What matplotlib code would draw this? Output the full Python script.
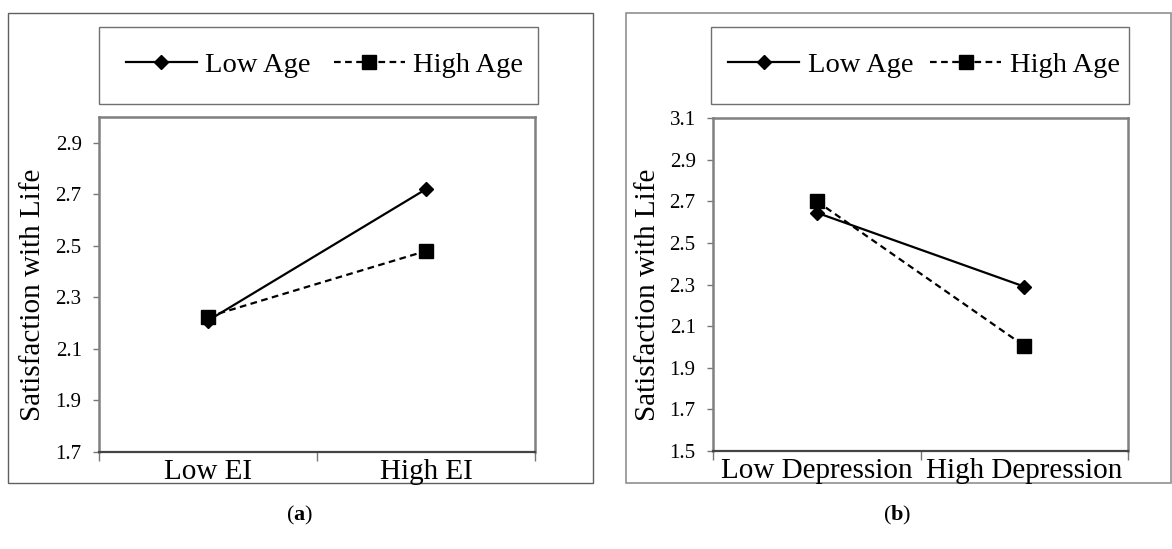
import matplotlib
matplotlib.use("Agg")
import matplotlib.pyplot as plt
from matplotlib.patches import Rectangle
from matplotlib.lines import Line2D

plt.rcParams['font.family'] = ['Liberation Serif', 'DejaVu Serif']
plt.rcParams['mathtext.fontset'] = 'custom'
plt.rcParams['mathtext.rm'] = 'Liberation Serif'
plt.rcParams['mathtext.bf'] = 'Liberation Serif:bold'

# ---- data ----
series_names = ["Low Age", "High Age"]
cats_a = ["Low EI", "High EI"]
low_age_a = [2.21, 2.72]
high_age_a = [2.225, 2.48]
yticks_a = [1.7, 1.9, 2.1, 2.3, 2.5, 2.7, 2.9]

cats_b = ["Low Depression", "High Depression"]
low_age_b = [2.645, 2.29]
high_age_b = [2.70, 2.005]
yticks_b = [1.5, 1.7, 1.9, 2.1, 2.3, 2.5, 2.7, 2.9, 3.1]

ylabel = "Satisfaction with Life"

W, H = 1172, 549
fig = plt.figure(figsize=(W / 100, H / 100), dpi=100)


def fbox(x0, y0, x1, y1):
    return [x0 / W, 1 - y1 / H, (x1 - x0) / W, (y1 - y0) / H]


def rect(x0, y0, x1, y1, color, lw):
    b = fbox(x0, y0, x1, y1)
    fig.add_artist(Rectangle((b[0], b[1]), b[2], b[3], transform=fig.transFigure,
                             fill=False, ec=color, lw=lw, zorder=0))


def panel(ax_px, cats, low, high, yticks, ylim, leg_px, ylab_x, leg_shift, colsp):
    ax = fig.add_axes(fbox(*ax_px))
    xs = [0.5, 1.5]
    ax.plot(xs, low, color='black', lw=1.6, marker='D', ms=7, zorder=3,
            label=series_names[0])
    ax.plot(xs, high, color='black', lw=1.6, linestyle=(0, (3, 2)), marker='s',
            ms=9.5, zorder=4, label=series_names[1])
    ax.set_xlim(0, 2)
    ax.set_ylim(*ylim)
    ax.set_yticks(yticks)
    ax.set_yticklabels([f"{v:.1f}" for v in yticks])
    ax.set_xticks([0, 1, 2])
    ax.set_xticklabels(["", "", ""])
    ax.set_xticks(xs, minor=True)
    ax.set_xticklabels(cats, minor=True)
    ax.tick_params(axis='y', direction='out', length=4.5, width=1, color='#777777',
                   labelsize=15, pad=8)
    ax.tick_params(axis='x', which='major', direction='out', length=6.5, width=1,
                   color='#777777')
    ax.tick_params(axis='x', which='minor', length=0, labelsize=21, pad=5)
    for s in ['top', 'right', 'left']:
        ax.spines[s].set_color('#808080')
        ax.spines[s].set_linewidth(1.8)
    ax.spines['bottom'].set_color('#444444')
    ax.spines['bottom'].set_linewidth(1.6)
    # legend box
    rect(*leg_px, '#707070', 1.0)
    lx = (leg_px[0] + leg_px[2]) / 2 + leg_shift
    ly = (leg_px[1] + leg_px[3]) / 2
    handles = [
        Line2D([], [], color='black', lw=1.6, marker='D', ms=7),
        Line2D([], [], color='black', lw=1.6, linestyle=(0, (3, 2)), marker='s', ms=9.5),
    ]
    fig.legend(handles, series_names, loc='center', bbox_to_anchor=(lx / W, 1 - ly / H),
               ncol=2, frameon=False, fontsize=20.5, handlelength=2.5, handletextpad=0.3,
               columnspacing=colsp, numpoints=1, borderpad=0)
    fig.text(ylab_x / W, 1 - 295 / H, ylabel, rotation=90, ha='center', va='center',
             fontsize=21)
    return ax


# panel frames
rect(8, 13, 593, 483, '#606060', 1.0)
rect(626, 13, 1171, 483, '#909090', 1.2)

panel((99, 117, 535, 452), cats_a, low_age_a, high_age_a, yticks_a, (1.7, 3.0),
      (99, 27, 538, 104), 33, 6, 0.8)
panel((713, 118, 1128, 451), cats_b, low_age_b, high_age_b, yticks_b, (1.5, 3.1),
      (711, 27, 1129, 104), 648, 4, 0.6)

fig.text(300 / W, 1 - 515 / H, r"($\mathbf{a}$)", ha='center', va='center', fontsize=16)
fig.text(897 / W, 1 - 515 / H, r"($\mathbf{b}$)", ha='center', va='center', fontsize=16)

fig.savefig("out.png", dpi=100)
